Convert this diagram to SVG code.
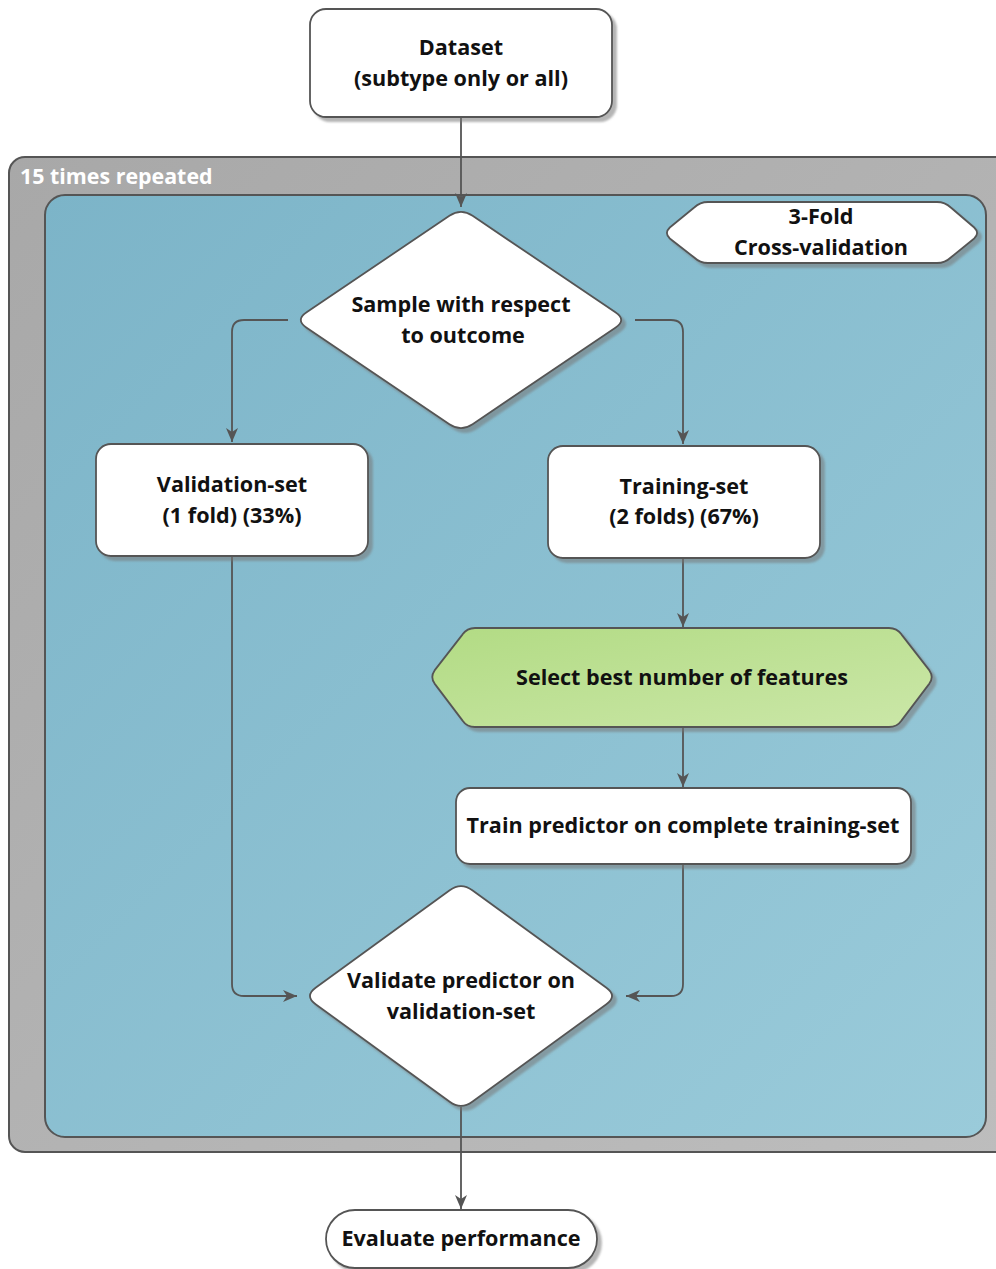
<svg xmlns="http://www.w3.org/2000/svg" width="996" height="1269" viewBox="0 0 996 1269">
<style>
.box{fill:#fff;stroke:#555;stroke-width:1.8;filter:url(#sh)}
.t{font-family:"Open Sans","Noto Sans","Liberation Sans",sans-serif;font-weight:bold;font-size:21.6px;fill:#111;text-anchor:middle}
.ca{fill:none;stroke:#555;stroke-width:1.8;marker-end:url(#ah)}
</style>
<defs>
<linearGradient id="gBlue" x1="0" y1="0" x2="1" y2="1"><stop offset="0" stop-color="#7cb4c8"/><stop offset="1" stop-color="#9acbda"/></linearGradient>
<linearGradient id="gGrey" x1="0" y1="0" x2="1" y2="1"><stop offset="0" stop-color="#a8a8a8"/><stop offset="1" stop-color="#bdbdbd"/></linearGradient>
<linearGradient id="gGreen" x1="0" y1="0" x2="1" y2="1"><stop offset="0" stop-color="#b2db84"/><stop offset="1" stop-color="#cbe7a8"/></linearGradient>
<filter id="sh" x="-10%" y="-10%" width="120%" height="130%"><feDropShadow dx="4" dy="4" stdDeviation="1" flood-color="#777" flood-opacity="0.55"/></filter>
<marker id="ah" markerUnits="userSpaceOnUse" markerWidth="14" markerHeight="12" refX="14" refY="6" orient="auto"><path d="M0,0 L14,6 L0,12 L4,6 Z" fill="#555"/></marker>
</defs>

<g id="repeat-container">
<rect x="9" y="157" width="1005" height="995" rx="16" fill="url(#gGrey)" stroke="#555" stroke-width="2"/>
<text x="20" y="184" style="font-family:'Open Sans','Noto Sans','Liberation Sans',sans-serif;font-weight:bold;font-size:21.4px;fill:#fff">15 times repeated</text>
</g>
<g id="cv-container">
<rect x="45" y="195" width="941" height="942" rx="20" fill="url(#gBlue)" stroke="#555" stroke-width="2"/>
</g>

<g id="connectors">
<path class="ca" d="M461,118 L461,207"/>
<path class="ca" d="M288,320 L244,320 Q232,320 232,332 L232,442"/>
<path class="ca" d="M635,320 L671,320 Q683,320 683,332 L683,444"/>
<path class="ca" d="M683,559 L683,627"/>
<path class="ca" d="M683,728 L683,787"/>
<path class="ca" d="M683,865 L683,984 Q683,996 671,996 L626,996"/>
<path class="ca" d="M232,557 L232,984 Q232,996 244,996 L297,996"/>
<path class="ca" d="M461,1107 L461,1209"/>
</g>

<g id="dataset">
<rect class="box" x="310" y="9" width="302" height="108" rx="16"/>
<text class="t" x="461" y="55">Dataset</text>
<text class="t" x="461" y="86">(subtype only or all)</text>
</g>

<g id="three-fold">
<path class="box" d="M669.8,227.5 L694.2,207.5 Q700,202 708,202 L937,202 Q945,202 950.8,207.5 L974.2,227.5 Q980,233 974.2,238.5 L950.8,257.5 Q945,263 937,263 L708,263 Q700,263 694.2,257.5 L669.8,238.5 Q664,233 669.8,227.5 Z"/>
<text class="t" x="821" y="224">3-Fold</text>
<text class="t" x="821" y="255">Cross-validation</text>
</g>

<g id="sample">
<path class="box" d="M449.4,215.8 Q461,208 472.6,215.8 L615.4,312.2 Q627,320 615.4,327.8 L472.6,424.2 Q461,432 449.4,424.2 L306.6,327.8 Q295,320 306.6,312.2 Z"/>
<text class="t" x="461" y="312">Sample with respect</text>
<text class="t" x="463" y="343">to outcome</text>
</g>

<g id="validation-set">
<rect class="box" x="96" y="444" width="272" height="112" rx="15"/>
<text class="t" x="232" y="492">Validation-set</text>
<text class="t" x="232" y="523">(1 fold) (33%)</text>
</g>

<g id="training-set">
<rect class="box" x="548" y="446" width="272" height="112" rx="15"/>
<text class="t" x="684" y="494">Training-set</text>
<text class="t" x="684" y="524">(2 folds) (67%)</text>
</g>

<g id="select-features">
<path d="M434.6,670.4 L462.4,634.6 Q467,628 475,628 L889,628 Q897,628 901.6,634.6 L929.4,670.4 Q934,677 929.4,683.6 L901.6,720.4 Q897,727 889,727 L475,727 Q467,727 462.4,720.4 L434.6,683.6 Q430,677 434.6,670.4 Z" fill="url(#gGreen)" stroke="#555" stroke-width="1.8" filter="url(#sh)"/>
<text class="t" x="682" y="685">Select best number of features</text>
</g>

<g id="train-predictor">
<rect class="box" x="456" y="788" width="455" height="76" rx="14"/>
<text class="t" x="683" y="833">Train predictor on complete training-set</text>
</g>

<g id="validate">
<path class="box" d="M449.7,890.2 Q461,882 472.3,890.2 L606.4,987.8 Q617.7,996 606.4,1004.2 L472.3,1101.8 Q461,1110 449.7,1101.8 L315.6,1004.2 Q304.3,996 315.6,987.8 Z"/>
<text class="t" x="461" y="988">Validate predictor on</text>
<text class="t" x="461" y="1019">validation-set</text>
</g>

<g id="evaluate">
<rect class="box" x="326" y="1210" width="271" height="58" rx="29"/>
<text class="t" x="461" y="1246">Evaluate performance</text>
</g>
</svg>
